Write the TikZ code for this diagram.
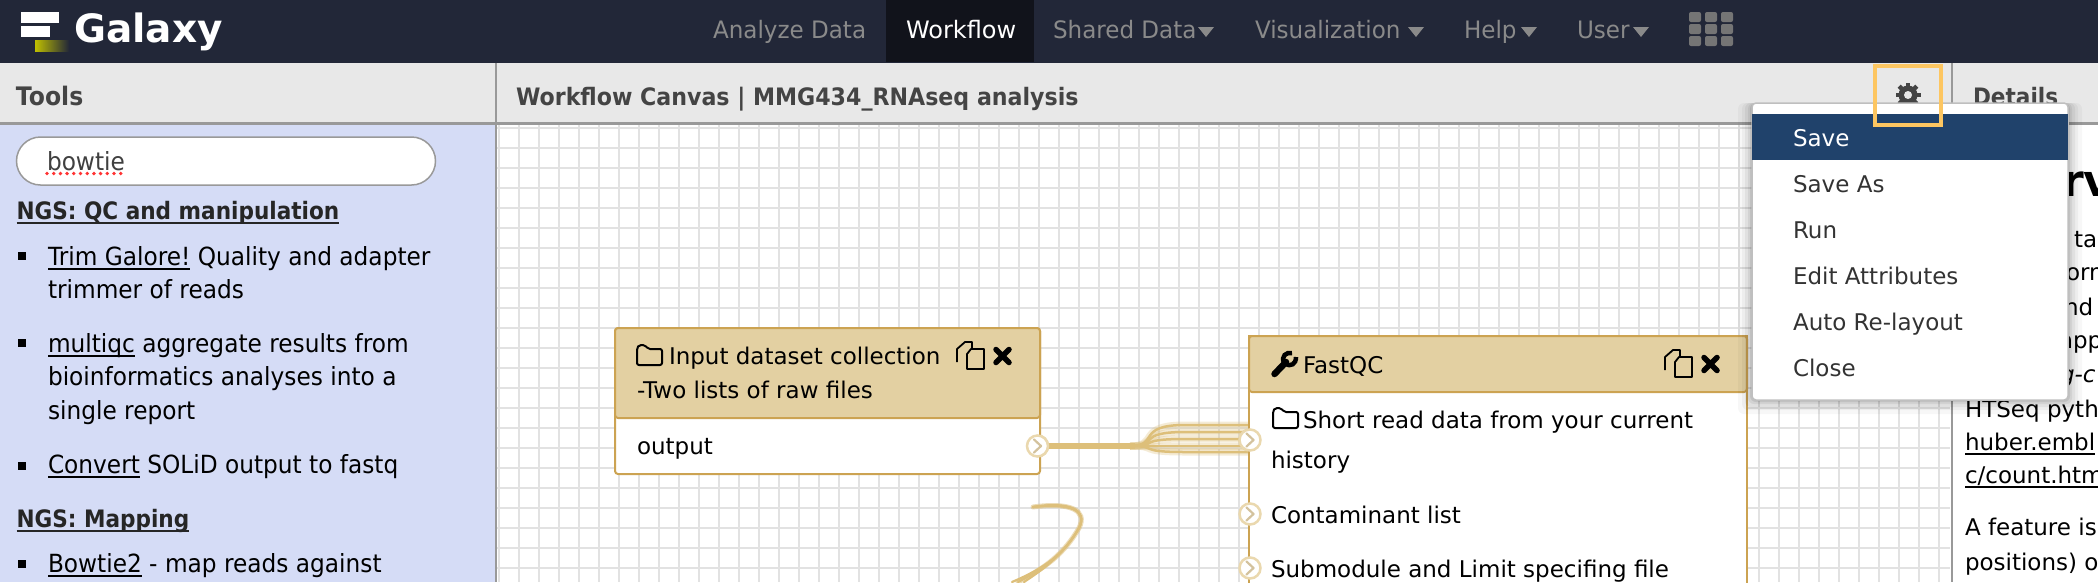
\documentclass[tikz,border=0pt]{standalone}
\usepackage{fontspec}
\setmainfont{DejaVu Sans}
\newfontfamily\hdr[FakeStretch=0.9]{DejaVu Sans}
\newfontfamily\titlef[FakeStretch=0.922]{DejaVu Sans}
\newfontfamily\sidef[FakeStretch=0.93]{DejaVu Sans}
\newfontfamily\navf[FakeStretch=0.96]{DejaVu Sans}
\usetikzlibrary{shapes.misc,fadings}
\definecolor{barbg}{HTML}{222738}
\definecolor{barsel}{HTML}{11131B}
\definecolor{navtxt}{HTML}{8A8A8A}
\definecolor{headbg}{HTML}{E8E8E8}
\definecolor{rulegray}{HTML}{999999}
\definecolor{sidebg}{HTML}{D5DCF6}
\definecolor{gridc}{HTML}{E2E2E2}
\definecolor{wfhead}{HTML}{E3D0A2}
\definecolor{wfedge}{HTML}{CCA352}
\definecolor{noodle}{HTML}{DDBF7A}
\definecolor{portc}{HTML}{EAD8AE}
\definecolor{savebg}{HTML}{20426B}
\definecolor{hilite}{HTML}{FDC661}
\definecolor{titlec}{HTML}{444444}
\newcommand\fsz[1]{\fontsize{#1}{#1}\selectfont}
\newcommand\ulink[1]{\setbox0\hbox{#1}\rlap{\rule[-4.5pt]{\wd0}{1.6pt}}\box0{}}
\tikzset{
  x=1pt,y=-1pt,
  txt/.style={anchor=base west,inner sep=0pt,outer sep=0pt,font=\fsz{23}},
  nav/.style={txt,text=navtxt,font=\navf\fsz{24}},
  head/.style={txt,text=titlec,font=\hdr\bfseries\fsz{24}},
  sect/.style={txt,text=black!85,font=\hdr\bfseries\fsz{24}},
  menuitem/.style={txt,font=\fsz{23},text=black!80},
  side/.style={txt,font=\sidef\fsz{25}},
  bullet/.style={fill=black,draw=none,minimum size=8pt,inner sep=0pt,rectangle},
  port/.style={circle,fill=white,draw=portc,line width=2.5pt,minimum size=21pt,inner sep=0pt},
  noodleline/.style={draw=noodle,line width=2.5pt},
  noodleglow/.style={draw=noodle,line width=7pt,opacity=.3},
  chev/.style={draw=portc!90!black,line width=2.2pt,line cap=round,line join=round},
  folder/.pic={\draw[line width=2pt,line join=round,rounded corners=2pt]
     (0,3)--(0,20)--(25,20)--(25,4)--(11,4)--(8,0)--(2,0)--cycle;},
  copyicon/.pic={
     \draw[line width=1.8pt,line join=round] (0,20)--(0,7)--(8,0)--(15,0)--(15,8);
     \draw[line width=1.8pt,line join=round,fill=wfhead] (14,7)--(27,7)--(27,27)--(10,27)--(10,12)--cycle;},
  crossicon/.pic={\draw[line width=5.5pt,line cap=round] (-6.5,-6.5)--(6.5,6.5) (-6.5,6.5)--(6.5,-6.5);},
}
\begin{document}
\begin{tikzpicture}
\useasboundingbox (0,0) rectangle (2098,582);
\begin{scope}
\clip (0,0) rectangle (2098,582);
% ---- page bands
\fill[white] (0,0) rectangle (2098,582);
\fill[headbg] (0,63) rectangle (2098,122);
\fill[barbg] (0,0) rectangle (2098,63);
\fill[barsel] (886,0) rectangle (1034,62);
% ---- logo and navigation
\fill[white] (21,12) rectangle (59,23);
\fill[white] (21,26) rectangle (50,37);
\fill[left color=yellow!75!black,right color=barbg] (35,40) rectangle (69,51);
\node[txt,text=white,font=\bfseries\fsz{39}] (galaxy) at (74,42) {Galaxy};
\node[nav] (analyze) at (713,38) {Analyze Data};
\node[nav,text=white,font=\fsz{24}] (workflow) at (906,38) {Workflow};
\node[nav] (shared) at (1053,38) {Shared Data};
\node[nav] (visual) at (1255,38) {Visualization};
\node[nav] (help) at (1464,38) {Help};
\node[nav] (user) at (1577,38) {User};
\foreach \ax in {1198,1408,1521,1633}{
  \fill[navtxt] (\ax,27)--(\ax+16,27)--(\ax+8,37)--cycle;}
\foreach \gx in {1689,1705,1721}{\foreach \gy in {12,24,36}{
  \fill[navtxt!85!black,rounded corners=2pt] (\gx,\gy) rectangle (\gx+12,\gy+10);}}
% ---- side panel
\fill[sidebg] (0,124) rectangle (495,582);
\node[head,font=\titlef\bfseries\fsz{25.5}] (tools) at (16,105) {Tools};
\node[head,font=\titlef\bfseries\fsz{24}] (title) at (516,105) {Workflow Canvas | MMG434\_RNAseq analysis};
\node[draw=rulegray,line width=1.5pt,fill=white,rounded rectangle,minimum width=419pt,minimum height=48pt,inner sep=0pt,anchor=center] (search) at (226,161) {};
\node[side,text=black!75] (bowtie) at (47,170) {bowtie};
\foreach \dx in {47,53.7,...,124}{\fill[red!80!white] (\dx,173.5) circle (1.9pt);}
\node[sect] (ngsqc) at (16.5,219) {\ulink{NGS: QC and manipulation}};
\node[bullet] (b1) at (22,256) {};
\node[side] (trim) at (48,265) {\ulink{Trim Galore!} Quality and adapter};
\node[side] (trim2) at (48,298) {trimmer of reads};
\node[bullet] (b2) at (22,343) {};
\node[side] (multi) at (48,352) {\ulink{multiqc} aggregate results from};
\node[side] (multi2) at (48,385) {bioinformatics analyses into a};
\node[side] (multi3) at (48,419) {single report};
\node[bullet] (b3) at (22,466) {};
\node[side] (conv) at (48,473) {\ulink{Convert} SOLiD output to fastq};
\node[sect] (ngsmap) at (16.5,527) {\ulink{NGS: Mapping}};
\node[bullet] (b4) at (22,564) {};
\node[side] (bow2) at (48,572) {\ulink{Bowtie2} - map reads against};
% ---- canvas grid
\begin{scope}
\clip (497,124) rectangle (1950,582);
\foreach \gx in {499,519,...,1959}{\draw[gridc,line width=2.5pt] (\gx,124)--(\gx,582);}
\foreach \gy in {128,148,...,582}{\draw[gridc,line width=2.5pt] (497,\gy)--(1950,\gy);}
\end{scope}
% ---- rules
\fill[rulegray] (0,122) rectangle (2098,124.5);
\fill[rulegray] (494.5,63) rectangle (496.5,582);
\fill[rulegray] (1950.5,63) rectangle (1952.5,582);
% ---- right panel
\fill[white] (1952.5,124.5) rectangle (2098,582);
\node[head] (details) at (1973,105) {Details};
\node[txt,font=\bfseries\fsz{44},text=black] (overv) at (2062,196) {rv};
\node[txt] (r1) at (2074,247) {ta};
\node[txt] (r2) at (2066,280) {orm};
\node[txt] (r3) at (2064,315) {nd};
\node[txt] (r4) at (2059,348) {app};
\node[txt,font=\itshape\fsz{23}] (r5) at (2060,382) {g-c};
\node[txt] (r6) at (1965,417) {HTSeq pyth};
\node[txt] (r7) at (1965,450) {\ulink{huber.embl}};
\node[txt] (r8) at (1965,483) {\ulink{c/count.htm}};
\node[txt] (r9) at (1965,535) {A feature is};
\node[txt] (r10) at (1965,570) {positions) o};
% ---- workflow nodes
\coordinate (fanA) at (1250,425);
\coordinate (fanB) at (1250,432);
\coordinate (fanC) at (1250,439);
\coordinate (fanD) at (1250,446);
\coordinate (fanE) at (1250,452);
\coordinate (loopS) at (1033,507);
\coordinate (loopM) at (1079,528);
\coordinate (loopA) at (1012,582);
\coordinate (loopB) at (1018,582);
\coordinate (loopC) at (1024,582);
\node[port] (out1) at (1037.5,446) {};
\node[port] (in1) at (1250,440) {};
\foreach \f in {fanA,fanB,fanC,fanD,fanE}{
  \draw[noodleglow] (1130,446) .. controls (1160,446) and (1135,0|-\f) .. (1185,0|-\f) -- (\f);
  \draw[noodleline] (out1.center) -- (1130,446) .. controls (1160,446) and (1135,0|-\f) .. (1185,0|-\f) -- (\f);
}
\draw[draw=noodle,line width=6pt] (out1.center) -- (1135,446);
\draw[draw=noodle,line width=5pt,line cap=round,opacity=.55] (loopS) .. controls (1070,502) and (1088,510) .. (loopM) .. controls (1064,554) and (1045,568) .. (loopB);
\foreach \e/\dd in {loopA/-2,loopB/0,loopC/2}{
  \draw[noodleline,line width=2.2pt,line cap=round] (loopS) .. controls (1070,502+\dd*.5) and (1088,510) .. (loopM) .. controls (1064,554) and (1045,568) .. (\e);
}
\draw[fill=white,draw=wfedge,line width=2pt,rounded corners=3pt] (615,328) rectangle (1040,474);
\draw[fill=wfhead,draw=wfedge,line width=2pt,rounded corners=3pt] (615,418)--(615,328)--(1040,328)--(1040,418)--cycle;
\pic at (637,345) {folder};
\node[txt] (in1t) at (669,364) {Input dataset collection};
\node[txt] (in2t) at (637,398) {-Two lists of raw files};
\pic at (957,342) {copyicon};
\pic at (1002.5,356) {crossicon};
\node[txt] (outt) at (637,454) {output};
\draw[fill=white,draw=wfedge,line width=2pt] (1249,620)--(1249,336)--(1747,336)--(1747,620);
\draw[fill=wfhead,draw=wfedge,line width=2pt,rounded corners=3pt] (1249,392)--(1249,336)--(1747,336)--(1747,392)--cycle;
% wrench
\draw[line width=6.5pt,line cap=round] (1274.5,374)--(1286,362);
\draw[line width=4.5pt] (1284,363) .. controls (1281,356) and (1286,352) .. (1292,353);
\draw[line width=4.5pt] (1285,364) .. controls (1291,367) and (1296,364) .. (1296,357);
\node[txt] (fq) at (1303,373) {FastQC};
\pic at (1665,350) {copyicon};
\pic at (1710.5,364) {crossicon};
\pic at (1273,408) {folder};
\node[txt] (fq1) at (1303,428) {Short read data from your current};
\node[txt] (fq2) at (1271,468) {history};
\node[txt] (fq3) at (1271,523) {Contaminant list};
\node[txt] (fq4) at (1271,577) {Submodule and Limit specifing file};
\node[port] (out1b) at (out1) {};
\node[port] (in1b) at (in1) {};
\node[port] (in2) at (1250,514) {};
\node[port] (in3) at (1250,568) {};
\foreach \p in {out1b,in1b,in2,in3}{
  \draw[chev] ([xshift=-3.5pt,yshift=6.5pt]\p.center)--([xshift=3.5pt]\p.center)--([xshift=-3.5pt,yshift=-6.5pt]\p.center);
}
% ---- gear
\foreach \a in {0,45,...,315}{\draw[titlec,line width=4.5pt] (1908,95)--++(\a:12.5);}
\fill[titlec] (1908,95) circle (9.5pt);
\fill[headbg] (1908,95) circle (4pt);
% ---- dropdown menu
\foreach \s/\o in {14/.03,10/.04,7/.05,4/.06,2/.08}{
  \fill[black,opacity=\o,rounded corners=6pt] (1752-\s,103) rectangle (2068+\s,400+\s);}
\draw[fill=white,draw=black!25,line width=1.5pt,rounded corners=4pt] (1752,103) rectangle (2068,400);
\fill[savebg] (1752,114) rectangle (2068,160);
\node[menuitem,text=white] (m1) at (1793,146) {Save};
\node[menuitem] (m2) at (1793,192) {Save As};
\node[menuitem] (m3) at (1793,238) {Run};
\node[menuitem] (m4) at (1793,284) {Edit Attributes};
\node[menuitem] (m5) at (1793,330) {Auto Re-layout};
\node[menuitem] (m6) at (1793,376) {Close};
\draw[hilite,line width=4pt] (1875,66) rectangle (1941,125);
\end{scope}
\end{tikzpicture}
\end{document}
